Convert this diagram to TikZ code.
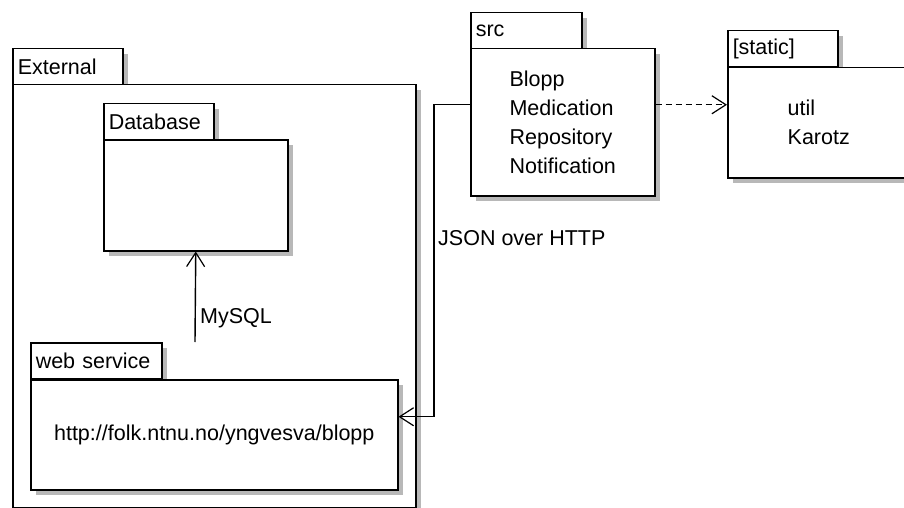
\documentclass[tikz,border=0pt]{standalone}
\usepackage{fontspec}
\setmainfont{Liberation Sans}
\usetikzlibrary{arrows.meta,shadows}

\tikzset{
  pkgfont/.style={font=\fontsize{21.5}{29}\selectfont},
  pkgbox/.style={draw, line width=1.5pt, fill=white, rectangle, anchor=north west,
    inner sep=0pt, pkgfont,
    general shadow={fill=black!28, shadow xshift=5pt, shadow yshift=-5pt}},
  pkgtab/.style={pkgbox, minimum height=36pt, align=left, inner xsep=5pt},
  pkgbody/.style={pkgbox, align=left},
  dep/.style={line width=1.4pt, -{Straight Barb[length=14pt,width=18pt,line width=1.2pt]}},
  lbl/.style={pkgfont, anchor=west, inner sep=3pt},
}

\begin{document}
\begin{tikzpicture}[x=1pt,y=-1pt]
\useasboundingbox (0,0) rectangle (904,508);
\clip (0,0) rectangle (904,508);

% External package
\node[pkgtab, text width=100pt] (exttab) at (12,48) {External};
\node[pkgbody, minimum width=403pt, minimum height=423pt] (ext) at (12,84) {};

% Database package (inside External)
\node[pkgtab, text width=100pt] (dbtab) at (103,103) {Database};
\node[pkgbody, minimum width=184pt, minimum height=111pt] (db) at (103,139) {};

% web service package (inside External)
\node[pkgtab, text width=121pt] (wstab) at (30,342) {web service};
\node[pkgbody, minimum width=367pt, minimum height=110pt] (ws) at (30,379) {http://folk.ntnu.no/yngvesva/blopp};

% src package
\node[pkgtab, text width=101pt] (srctab) at (470,12) {src};
\node[pkgbody, minimum width=184pt, minimum height=147pt] (src) at (470,48) {Blopp\\Medication\\Repository\\Notification};

% [static] package
\node[pkgtab, text width=100pt] (sttab) at (727,30) {[static]};
\node[pkgbody, minimum width=182pt, minimum height=110pt] (st) at (727,67) {util\\Karotz};

% web service -> Database
\coordinate (wstop) at (195,342);
\draw[dep] (wstop) -- (db.south);
\node[lbl] (mysql) at (197,318) {MySQL};

% src -> web service
\draw[dep] ([yshift=17.5pt]src.west) -- ++(-36,0) |- ([yshift=18pt]ws.east);
\node[lbl] (json) at (435,238) {JSON over HTTP};

% src -> [static]
\draw[dep, dash pattern=on 6pt off 4pt] ([yshift=17.5pt]src.east) -- ([yshift=17.5pt]src.east -| st.west);
\end{tikzpicture}
\end{document}
